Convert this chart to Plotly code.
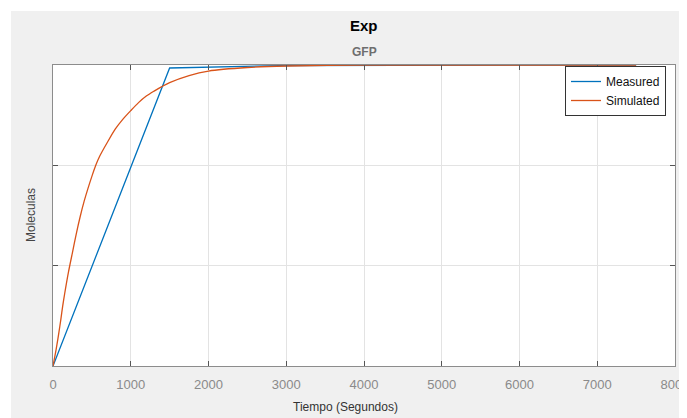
import plotly.graph_objects as go

# Data (y in arbitrary units; axis shows no labels)
t_measured = [0, 1500, 3000, 4500, 6000, 7500]
y_measured = [0, 2.97, 2.995, 3.0, 3.0, 3.0]

t_simulated = [0, 25, 50, 75, 100, 125, 150, 200, 250, 300, 350, 400, 450, 500, 550, 600,
               700, 800, 900, 1000, 1100, 1200, 1300, 1400, 1500, 1750, 2000, 2500, 3000,
               4000, 5000, 6000, 7500]
y_simulated = [0, 0.10, 0.21, 0.33, 0.46, 0.60, 0.72, 0.94, 1.13, 1.32, 1.49, 1.64, 1.77,
               1.89, 2.00, 2.09, 2.23, 2.36, 2.46, 2.545, 2.625, 2.69, 2.74, 2.785, 2.825,
               2.895, 2.94, 2.975, 2.99, 2.998, 3.0, 3.0, 3.0]

x_ticks = [0, 1000, 2000, 3000, 4000, 5000, 6000, 7000, 8000]
y_ticks = [0, 1, 2, 3]

# The page body has an 8px margin, so the figure starts at (8, 8) in the window
OFF = 8
W, H = 687 - OFF, 418 - OFF
L, R, T, B = 53 - OFF, 12, 65 - OFF, 52
pw, ph = W - L - R, H - T - B

def px_x(x):
    return (x - OFF - L) / pw

def px_y(y):
    return (H - B - (y - OFF)) / ph

FONT = "Liberation Sans, Arial, Helvetica, sans-serif"

fig = go.Figure()
fig.add_trace(go.Scatter(x=t_measured, y=y_measured, mode="lines", name="Measured",
                         line=dict(color="#0072BD", width=1.3)))
fig.add_trace(go.Scatter(x=t_simulated, y=y_simulated, mode="lines", name="Simulated",
                         line=dict(color="#D95319", width=1.3, shape="spline", smoothing=0.8)))

axis_common = dict(showgrid=True, gridcolor="#e3e3e3", gridwidth=1,
                   showline=True, linecolor="#8c8c8c", linewidth=1, mirror="ticks",
                   ticks="inside", ticklen=5, tickcolor="#555555", zeroline=False)

fig.update_xaxes(range=[0, 8000], tickvals=x_ticks, ticktext=[str(v) for v in x_ticks],
                 tickfont=dict(family=FONT, size=13, color="#8a8a8a"),
                 ticklabelstandoff=6, ticklabeloverflow="allow", **axis_common)
fig.update_yaxes(range=[0, 3], tickvals=y_ticks, showticklabels=False, **axis_common)

fig.update_layout(
    width=W, height=H,
    margin=dict(l=L, r=R, t=T, b=B, autoexpand=False),
    paper_bgcolor="#f0f0f0", plot_bgcolor="white",
    showlegend=True,
    legend=dict(x=px_x(666), y=px_y(66), xanchor="right", yanchor="top",
                bgcolor="white", bordercolor="#333333", borderwidth=1,
                font=dict(family=FONT, size=12, color="#111111"),
                tracegroupgap=0),
    shapes=[
        dict(type="rect", xref="paper", yref="paper", x0=px_x(0), x1=px_x(687), y0=px_y(0), y1=px_y(11),
             fillcolor="white", line=dict(width=0), layer="below"),
        dict(type="rect", xref="paper", yref="paper", x0=px_x(0), x1=px_x(11), y0=px_y(0), y1=px_y(418),
             fillcolor="white", line=dict(width=0), layer="below"),
    ],
    annotations=[
        dict(text="<b>Exp</b>", xref="paper", yref="paper", x=px_x(364), y=px_y(25),
             xanchor="center", yanchor="middle", showarrow=False,
             font=dict(family=FONT, size=15, color="#000000")),
        dict(text="<b>GFP</b>", xref="paper", yref="paper", x=px_x(364), y=px_y(52),
             xanchor="center", yanchor="middle", showarrow=False,
             font=dict(family=FONT, size=12, color="#6e6e6e")),
        dict(text="Tiempo (Segundos)", xref="paper", yref="paper", x=px_x(345), y=px_y(407),
             xanchor="center", yanchor="middle", showarrow=False,
             font=dict(family=FONT, size=12, color="#333333")),
        dict(text="Moleculas", xref="paper", yref="paper", x=px_x(31), y=px_y(215),
             xanchor="center", yanchor="middle", showarrow=False, textangle=-90,
             font=dict(family=FONT, size=12, color="#444444")),
    ],
)

fig.write_html("out.html")
